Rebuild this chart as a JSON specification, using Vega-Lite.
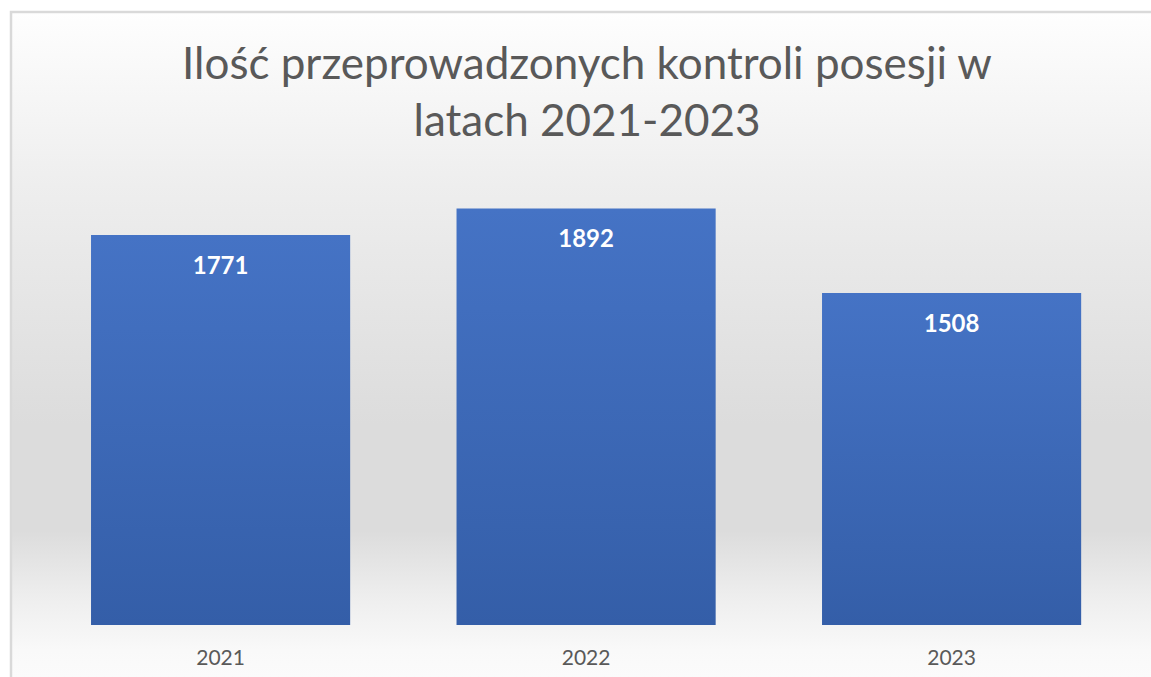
{
  "$schema": "https://vega.github.io/schema/vega-lite/v6.json",
  "width": 1140,
  "height": 665,
  "autosize": {"type": "none"},
  "padding": {"left": 11, "top": 12, "right": 0, "bottom": 0},
  "background": "#ffffff",
  "title": {
    "text": ["Ilość przeprowadzonych kontroli posesji w", "latach 2021-2023"],
    "font": "Lato",
    "fontSize": 44,
    "fontWeight": "normal",
    "color": "#595959",
    "lineHeight": 57,
    "offset": -134,
    "dx": 6,
    "anchor": "middle"
  },
  "config": {"view": {"stroke": null}},
  "data": {
    "values": [
      {"rok": "2021", "ilosc": 1771},
      {"rok": "2022", "ilosc": 1892},
      {"rok": "2023", "ilosc": 1508}
    ]
  },
  "layer": [
    {
      "data": {"values": [{"bg": 1}]},
      "mark": {
        "type": "rect",
        "stroke": "#d9d9d9",
        "strokeWidth": 2.5,
        "strokeDash": [1140, 1805, 670, 10],
        "color": {
          "gradient": "linear",
          "x1": 0, "y1": 0, "x2": 0, "y2": 1,
          "stops": [
            {"offset": 0, "color": "#fefefe"},
            {"offset": 0.26, "color": "#eeeeee"},
            {"offset": 0.62, "color": "#dcdcdc"},
            {"offset": 0.78, "color": "#dcdcdc"},
            {"offset": 0.88, "color": "#eeeeee"},
            {"offset": 0.96, "color": "#f9f9f9"},
            {"offset": 1, "color": "#fbfbfb"}
          ]
        }
      },
      "encoding": {}
    },
    {
      "mark": {
        "type": "bar",
        "color": {
          "gradient": "linear",
          "x1": 0, "y1": 0, "x2": 0, "y2": 1,
          "stops": [
            {"offset": 0, "color": "#4573c5"},
            {"offset": 1, "color": "#345ea8"}
          ]
        }
      },
      "encoding": {
        "x": {
          "field": "rok",
          "type": "nominal",
          "scale": {"paddingInner": 0.291, "paddingOuter": 0.205, "align": 0.534},
          "axis": {
            "title": null,
            "orient": "bottom",
            "offset": -52,
            "zindex": 2,
            "labelAngle": 0,
            "labelFont": "Lato",
            "labelFontSize": 21,
            "labelColor": "#595959",
            "labelPadding": 22,
            "ticks": false,
            "domain": false
          }
        },
        "y": {
          "field": "ilosc",
          "type": "quantitative",
          "scale": {"domain": [-236.1, 2783.8], "nice": false, "zero": true},
          "axis": null
        }
      }
    },
    {
      "mark": {
        "type": "text",
        "baseline": "middle",
        "dy": 32,
        "color": "#ffffff",
        "font": "Lato",
        "fontWeight": "bold",
        "fontSize": 24
      },
      "encoding": {
        "x": {"field": "rok", "type": "nominal"},
        "y": {"field": "ilosc", "type": "quantitative"},
        "text": {"field": "ilosc", "type": "quantitative"}
      }
    }
  ]
}
